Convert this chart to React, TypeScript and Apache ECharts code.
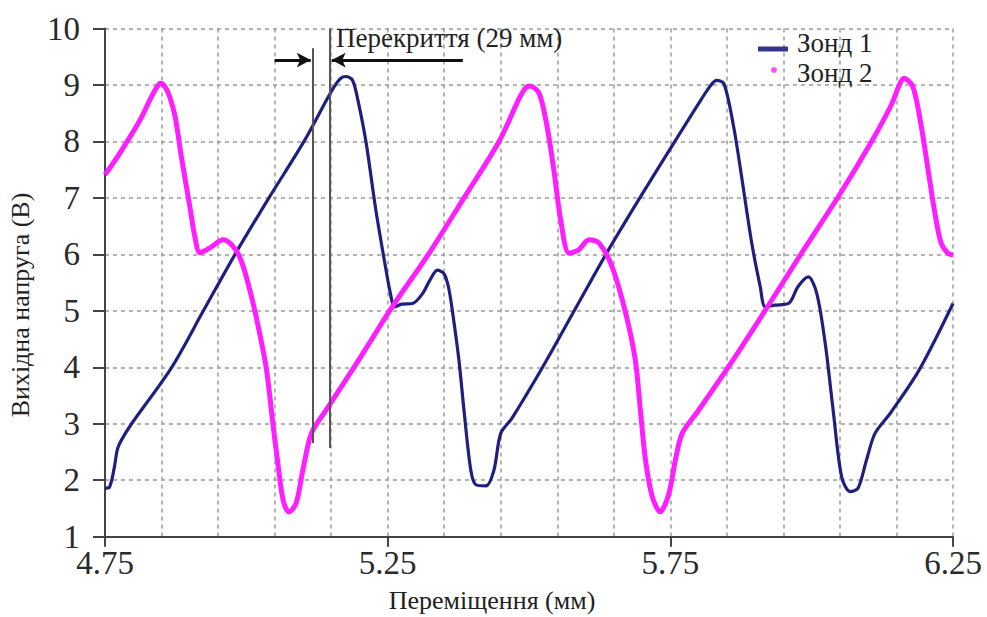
import React, { useEffect, useRef } from 'react';
import * as echarts from 'echarts';

// Axis ranges and labels
const X_MIN = 4.75;
const X_MAX = 6.25;
const X_LABEL_STEP = 0.5;
const X_GRID_SPLIT = 5;
const Y_MIN = 1;
const Y_MAX = 10;
const Y_STEP = 1;

const X_TITLE = 'Переміщення (мм)';
const Y_TITLE = 'Вихідна напруга (В)';
const SERIES_NAMES = ['Зонд 1', 'Зонд 2'];
const OVERLAP_TEXT = 'Перекриття (29 мм)';

// Зонд 1 (navy)
const probe1X = [
  4.75, 4.758, 4.766, 4.772, 4.779, 4.797, 4.868, 4.924, 4.98, 5.04, 5.102, 5.15, 5.165, 5.176,
  5.188, 5.198, 5.212, 5.229, 5.244, 5.255, 5.262, 5.275, 5.294, 5.312, 5.325, 5.338, 5.35,
  5.358, 5.365, 5.376, 5.385, 5.397, 5.406, 5.424, 5.438, 5.45, 5.47, 5.524, 5.58, 5.636,
  5.696, 5.758, 5.805, 5.822, 5.832, 5.845, 5.862, 5.876, 5.894, 5.909, 5.918, 5.935, 5.959,
  5.976, 5.994, 6.009, 6.024, 6.038, 6.053, 6.068, 6.082, 6.097, 6.112, 6.14, 6.19, 6.25,
];
const probe1Y = [
  1.86, 1.88, 2.2, 2.55, 2.71, 3.0, 4.0, 5.0, 6.0, 7.0, 8.0, 8.88, 9.1, 9.15,
  9.08, 8.7, 7.97, 6.79, 5.9, 5.3, 5.07, 5.12, 5.13, 5.31, 5.55, 5.72, 5.65,
  5.4, 4.96, 4.13, 3.24, 2.18, 1.92, 1.9, 2.18, 2.83, 3.1, 4.0, 5.0, 6.0,
  7.0, 8.0, 8.75, 9.0, 9.08, 9.02, 8.26, 7.38, 6.2, 5.43, 5.07, 5.1, 5.13,
  5.43, 5.6, 5.31, 4.42, 3.24, 2.06, 1.8, 1.86, 2.36, 2.83, 3.2, 3.95, 5.13,
];

// Зонд 2 (magenta)
const probe2X = [
  4.75, 4.776, 4.812, 4.83, 4.841, 4.848, 4.856, 4.864, 4.874, 4.885, 4.9, 4.909, 4.918, 4.935,
  4.959, 4.974, 4.988, 5.0, 5.015, 5.035, 5.047, 5.055, 5.065, 5.075, 5.088, 5.1, 5.115,
  5.141, 5.2, 5.26, 5.322, 5.385, 5.447, 5.482, 5.494, 5.502, 5.518, 5.532, 5.544, 5.556, 5.571,
  5.588, 5.606, 5.624, 5.647, 5.671, 5.688, 5.697, 5.706, 5.718, 5.732, 5.747, 5.759, 5.771,
  5.8, 5.853, 5.918, 5.982, 6.047, 6.106, 6.141, 6.155, 6.163, 6.179, 6.194, 6.206, 6.218, 6.229,
  6.241, 6.25,
];
const probe2Y = [
  7.41, 7.79, 8.38, 8.75, 8.95, 9.03, 8.97, 8.8, 8.44, 7.73, 6.85, 6.31, 6.03, 6.11,
  6.26, 6.17, 5.96, 5.6, 5.0, 4.0, 3.0, 2.36, 1.65, 1.44, 1.59, 2.18, 2.83,
  3.24, 4.15, 5.1, 6.0, 7.0, 8.0, 8.75, 8.95, 8.98, 8.85, 8.26, 7.49, 6.61, 6.02,
  6.08, 6.26, 6.2, 5.78, 4.96, 4.13, 3.24, 2.36, 1.71, 1.44, 1.75, 2.36, 2.83,
  3.24, 4.01, 5.01, 6.02, 7.02, 8.0, 8.65, 9.0, 9.12, 8.97, 8.26, 7.49, 6.73, 6.2,
  6.02, 5.99,
];

// Overlap annotation (data units)
const overlapLeftX = 5.117;
const overlapRightX = 5.148;
const overlapLeftY = [2.66, 9.65];
const overlapRightY = [2.57, 10.0];
const arrowY = 9.44;
const arrowLeftStart = 5.05;
const arrowRightStart = 5.383;

const FONT = 'Liberation Serif';
const NAVY = '#1f1f80';
const MAGENTA = '#ff1eff';
const GRID_LINE = { color: '#9c9c9c', type: [4, 4] as number[], width: 1.5 };
const AXIS_COLOR = '#444';

const toPairs = (xs: number[], ys: number[]) => xs.map((x, i) => [x - X_MIN, ys[i]]);

const textStyle = (text: string, size: number, align: string) => ({
  text,
  fontFamily: FONT,
  fontSize: size,
  fill: '#222',
  textAlign: align,
  textVerticalAlign: 'middle',
  align,
  verticalAlign: 'middle',
});

export default function App() {
  const ref = useRef<HTMLDivElement>(null);
  useEffect(() => {
    if (!ref.current) return;
    const chart = echarts.init(ref.current, null, { renderer: 'svg' });
    const option: any = {
      animation: false,
      backgroundColor: '#ffffff',
      textStyle: { fontFamily: FONT },
      grid: { left: 105, top: 28.5, width: 848, height: 508.2, outerBoundsMode: 'none' },
      xAxis: {
        type: 'value',
        min: 0,
        max: X_MAX - X_MIN,
        interval: X_LABEL_STEP,
        axisLine: { show: true, onZero: false, lineStyle: { color: AXIS_COLOR, width: 2 } },
        axisTick: { show: true, length: 10, lineStyle: { color: AXIS_COLOR, width: 2 } },
        axisLabel: {
          formatter: (v: number) => (v + X_MIN).toFixed(2),
          fontFamily: FONT,
          fontSize: 33,
          color: '#2a2a2a',
          margin: 10,
        },
        splitLine: { show: true, lineStyle: GRID_LINE },
        minorTick: { show: false, splitNumber: X_GRID_SPLIT },
        minorSplitLine: { show: true, lineStyle: GRID_LINE },
      },
      yAxis: {
        type: 'value',
        min: Y_MIN,
        max: Y_MAX,
        interval: Y_STEP,
        axisLine: { show: true, onZero: false, lineStyle: { color: AXIS_COLOR, width: 2 } },
        axisTick: { show: true, length: 12, lineStyle: { color: AXIS_COLOR, width: 2 } },
        axisLabel: { fontFamily: FONT, fontSize: 33, color: '#2a2a2a', margin: 25 },
        splitLine: { show: true, lineStyle: GRID_LINE },
      },
      series: [
        {
          name: SERIES_NAMES[0],
          type: 'line',
          data: toPairs(probe1X, probe1Y),
          showSymbol: false,
          smooth: 0.3,
          lineStyle: { color: NAVY, width: 3.2, join: 'round' },
          itemStyle: { color: NAVY },
          z: 3,
          markLine: {
            silent: true,
            animation: false,
            label: { show: false },
            symbol: ['none', 'none'],
            lineStyle: { color: '#555', width: 2, type: 'solid' },
            data: [
              [
                { coord: [overlapLeftX - X_MIN, overlapLeftY[0]] },
                { coord: [overlapLeftX - X_MIN, overlapLeftY[1]] },
              ],
              [
                { coord: [overlapRightX - X_MIN, overlapRightY[0]] },
                { coord: [overlapRightX - X_MIN, overlapRightY[1]] },
              ],
              [
                { coord: [arrowLeftStart - X_MIN, arrowY], symbol: 'none', lineStyle: { color: '#111', width: 3 } },
                { coord: [overlapLeftX - 0.003 - X_MIN, arrowY], symbol: 'arrow', symbolSize: [11, 14] },
              ],
              [
                { coord: [arrowRightStart - X_MIN, arrowY], symbol: 'none', lineStyle: { color: '#111', width: 3 } },
                { coord: [overlapRightX + 0.003 - X_MIN, arrowY], symbol: 'arrow', symbolSize: [11, 14] },
              ],
            ],
          },
        },
        {
          name: SERIES_NAMES[1],
          type: 'line',
          data: toPairs(probe2X, probe2Y),
          showSymbol: false,
          smooth: 0.3,
          lineStyle: { color: MAGENTA, width: 5, join: 'round' },
          itemStyle: { color: MAGENTA },
          z: 4,
        },
      ],
      graphic: [
        {
          type: 'text',
          x: 20,
          y: 305,
          rotation: Math.PI / 2,
          style: textStyle(Y_TITLE, 26, 'center'),
        },
        {
          type: 'text',
          x: 492,
          y: 600,
          style: textStyle(X_TITLE, 26, 'center'),
        },
        {
          type: 'text',
          x: 336,
          y: 38,
          z: 10,
          style: textStyle(OVERLAP_TEXT, 27, 'left'),
        },
        {
          type: 'rect',
          shape: { x: 758, y: 46.5, width: 30, height: 5 },
          style: { fill: '#34348e' },
          z: 10,
        },
        {
          type: 'circle',
          shape: { cx: 774, cy: 70, r: 3 },
          style: { fill: '#ff4dff' },
          z: 10,
        },
        {
          type: 'text',
          x: 797,
          y: 43,
          z: 10,
          style: textStyle(SERIES_NAMES[0], 27, 'left'),
        },
        {
          type: 'text',
          x: 797,
          y: 73,
          z: 10,
          style: textStyle(SERIES_NAMES[1], 27, 'left'),
        },
      ],
    };
    chart.setOption(option);
    return () => chart.dispose();
  }, []);
  return (
    <div
      ref={ref}
      style={{ position: 'absolute', left: 0, top: 0, width: 987, height: 617, background: '#fff' }}
    />
  );
}
